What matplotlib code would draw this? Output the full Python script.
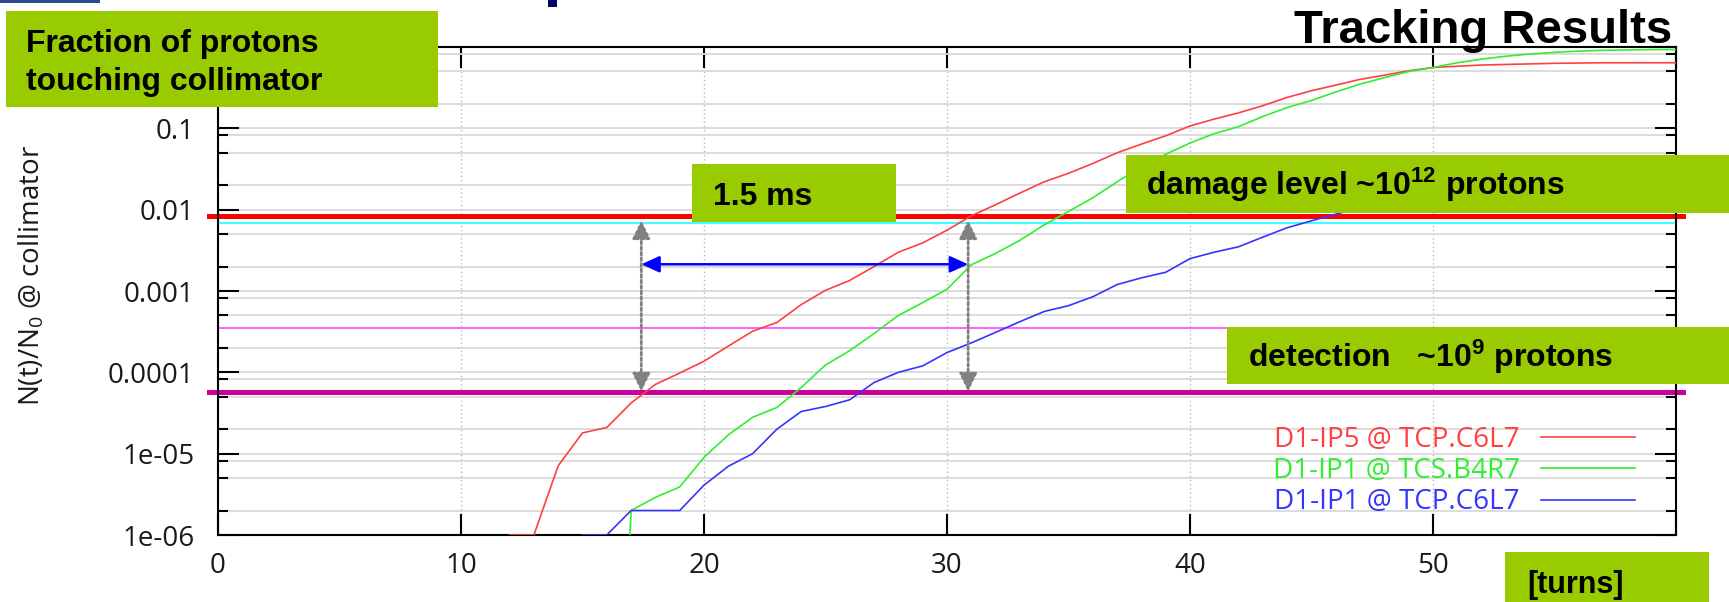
import numpy as np
import matplotlib
matplotlib.use("Agg")
import matplotlib.pyplot as plt
from matplotlib.patches import Rectangle
from matplotlib.ticker import LogLocator, FixedLocator, FixedFormatter, NullFormatter

# ---- data ----
turns_red = list(range(12, 61))
red_frac = [1e-6, 1e-6, 7.1e-6, 1.8e-5, 2.1e-5, 4.2e-5, 7.1e-5, 9.8e-5, 1.37e-4, 2.1e-4,
            3.2e-4, 4.1e-4, 6.8e-4, 1.02e-3, 1.35e-3, 2.0e-3, 3.0e-3, 3.9e-3, 5.6e-3, 8.4e-3,
            1.15e-2, 1.6e-2, 2.2e-2, 2.8e-2, 3.7e-2, 5.0e-2, 6.4e-2, 8.1e-2, 0.107, 0.13,
            0.155, 0.19, 0.24, 0.29, 0.34, 0.40, 0.45, 0.51, 0.56, 0.58,
            0.60, 0.61, 0.62, 0.63, 0.635, 0.64, 0.64, 0.64, 0.64]

turns_green = list(range(16, 61))
green_frac = [1e-12, 2.0e-6, 2.9e-6, 3.9e-6, 9.0e-6, 1.7e-5, 2.8e-5, 3.7e-5, 6.5e-5, 1.23e-4,
              1.85e-4, 3.0e-4, 5.0e-4, 7.2e-4, 1.05e-3, 2.1e-3, 2.9e-3, 4.2e-3, 6.5e-3, 9.5e-3,
              1.4e-2, 2.2e-2, 3.4e-2, 4.8e-2, 6.6e-2, 8.6e-2, 0.105, 0.14, 0.18, 0.22,
              0.28, 0.35, 0.42, 0.50, 0.56, 0.64, 0.71, 0.77, 0.82, 0.86,
              0.89, 0.91, 0.92, 0.93, 0.93]

turns_blue = list(range(15, 61))
blue_frac = [1e-6, 1e-6, 2.0e-6, 2.0e-6, 2.0e-6, 4.1e-6, 7.0e-6, 1.0e-5, 2.0e-5, 3.3e-5,
             3.8e-5, 4.6e-5, 7.5e-5, 1.0e-4, 1.2e-4, 1.75e-4, 2.3e-4, 3.1e-4, 4.2e-4, 5.6e-4,
             6.6e-4, 8.5e-4, 1.2e-3, 1.45e-3, 1.7e-3, 2.5e-3, 3.0e-3, 3.5e-3, 4.6e-3, 6.0e-3,
             7.3e-3, 8.8e-3, 1.05e-2, 1.25e-2, 1.45e-2, 1.65e-2, 1.8e-2, 1.9e-2, 2.0e-2, 2.1e-2,
             2.1e-2, 2.2e-2, 2.2e-2, 2.2e-2, 2.2e-2, 2.2e-2]

series_labels = ["D1-IP5 @ TCP.C6L7", "D1-IP1 @ TCS.B4R7", "D1-IP1 @ TCP.C6L7"]

damage_level = 0.0084
cyan_level = 0.0068
magenta_level = 3.55e-4
detection_level = 5.8e-5

arrow_turns = [17.42, 30.87]
arrow_top = 0.0074
span_level = 0.00213

xtick_vals = [0, 10, 20, 30, 40, 50, 60]
ytick_vals = [1e-6, 1e-5, 1e-4, 1e-3, 1e-2, 1e-1, 1]
ytick_labels = ["1e-06", "1e-05", "0.0001", "0.001", "0.01", "0.1", ""]

# ---- figure ----
W, H = 1729, 602
plt.rcParams["font.family"] = ["Open Sans", "DejaVu Sans"]
plt.rcParams["mathtext.default"] = "regular"
box_green = "#99cc00"
slide_font = ["Liberation Sans", "DejaVu Sans"]

fig = plt.figure(figsize=(W / 100, H / 100), dpi=100)
ax = fig.add_axes([218 / W, 1 - 535 / H, (1676 - 218) / W, (535 - 47) / H])

ax.set_yscale("log")
ax.set_xlim(0, 60)
ax.set_ylim(1e-6, 1)
ax.set_axisbelow(True)

ax.xaxis.set_major_locator(FixedLocator(xtick_vals))
ax.yaxis.set_major_locator(FixedLocator(ytick_vals))
ax.yaxis.set_major_formatter(FixedFormatter(ytick_labels))
ax.yaxis.set_minor_locator(LogLocator(base=10, subs=(2.0, 5.0, 8.2), numticks=20))
ax.yaxis.set_minor_formatter(NullFormatter())

ax.tick_params(which="both", direction="in", top=True, right=True, width=1.5, colors="black",
               labelcolor="#1a1a1a", labelsize=20)
ax.tick_params(which="major", length=15)
ax.tick_params(which="minor", length=7)
ax.tick_params(axis="x", pad=12)
ax.tick_params(axis="y", pad=17)
for s in ax.spines.values():
    s.set_linewidth(1.5)

ax.grid(which="both", axis="y", color="#d9d9d9", lw=1.3, ls="-")
ax.grid(which="major", axis="x", color="#b8b8b8", lw=1, ls=(0, (1, 2)))

# reference levels
ax.axhline(cyan_level, color="#40ffff", lw=1.5)
ax.axhline(magenta_level, color="#ff44ff", lw=1.2)
ax.axhline(damage_level, xmin=-0.006, xmax=1.005, color="#ff0000", lw=3.6, clip_on=False)
ax.axhline(detection_level, xmin=-0.006, xmax=1.005, color="#cc0099", lw=3.6, clip_on=False)

# curves
ax.plot(turns_red, red_frac, color="#ff4040", lw=1.2, label=series_labels[0], zorder=3)
ax.plot(turns_green, green_frac, color="#30ee30", lw=1.2, label=series_labels[1], zorder=3)
ax.plot(turns_blue, blue_frac, color="#3535ff", lw=1.2, label=series_labels[2], zorder=3)

# arrows
for xt in arrow_turns:
    ax.annotate("", xy=(xt, arrow_top), xytext=(xt, detection_level),
                arrowprops=dict(arrowstyle="<|-|>,head_length=0.55,head_width=0.27",
                                color="#808080", lw=2, ls=(0, (1, 1)), mutation_scale=20,
                                shrinkA=0, shrinkB=0))
ax.annotate("", xy=(arrow_turns[0], span_level), xytext=(arrow_turns[1], span_level),
            arrowprops=dict(arrowstyle="<|-|>,head_length=0.55,head_width=0.25",
                            color="#0000ff", lw=1.8, mutation_scale=20, shrinkA=0, shrinkB=0))

leg = ax.legend(loc="center right", bbox_to_anchor=(1635 / W, 1 - 471 / H),
                bbox_transform=fig.transFigure, frameon=False, markerfirst=False,
                fontsize=20, labelcolor="linecolor", handlelength=3.4, handletextpad=0.75,
                labelspacing=0.12, borderpad=0, borderaxespad=0)

fig.text(32 / W, 1 - 275 / H, "N(t)/N$_0$ @ collimator", rotation=90, ha="center",
         va="center", fontsize=20, color="#1a1a1a")


# ---- slide decorations (green boxes) ----
def box(x0, y0, x1, y1):
    fig.add_artist(Rectangle((x0 / W, 1 - y1 / H), (x1 - x0) / W, (y1 - y0) / H,
                             transform=fig.transFigure, facecolor=box_green,
                             edgecolor="none", zorder=5))


def label(x, base, s, size=23):
    fig.text(x / W, 1 - base / H, s, fontsize=size, fontweight="bold", family=slide_font,
             va="baseline", ha="left", color="black", zorder=6)


box(6, 11, 438, 107)
label(26, 52, "Fraction of protons")
label(26, 90, "touching collimator")

box(692, 164, 896, 222)
label(713, 205, "1.5 ms")

box(1126, 155, 1729, 213)
label(1146, 195, "damage level ~10$^{12}$ protons")

box(1227, 327, 1729, 384)
label(1248, 367, "detection   ~10$^{9}$ protons")

box(1505, 552, 1709, 602)
label(1527, 593, "[turns]", size=22)

fig.text(1672 / W, 1 - 43 / H, "Tracking Results", fontsize=34, fontweight="bold",
         family=slide_font, ha="right", va="baseline", zorder=6)

fig.add_artist(Rectangle((0, 1 - 3 / H), 100 / W, 3 / H, transform=fig.transFigure,
                         facecolor="#2b4a8c", edgecolor="none"))
fig.add_artist(Rectangle((548 / W, 1 - 7 / H), 9 / W, 7 / H, transform=fig.transFigure,
                         facecolor="#000066", edgecolor="none"))

fig.savefig("out.png", dpi=100)
